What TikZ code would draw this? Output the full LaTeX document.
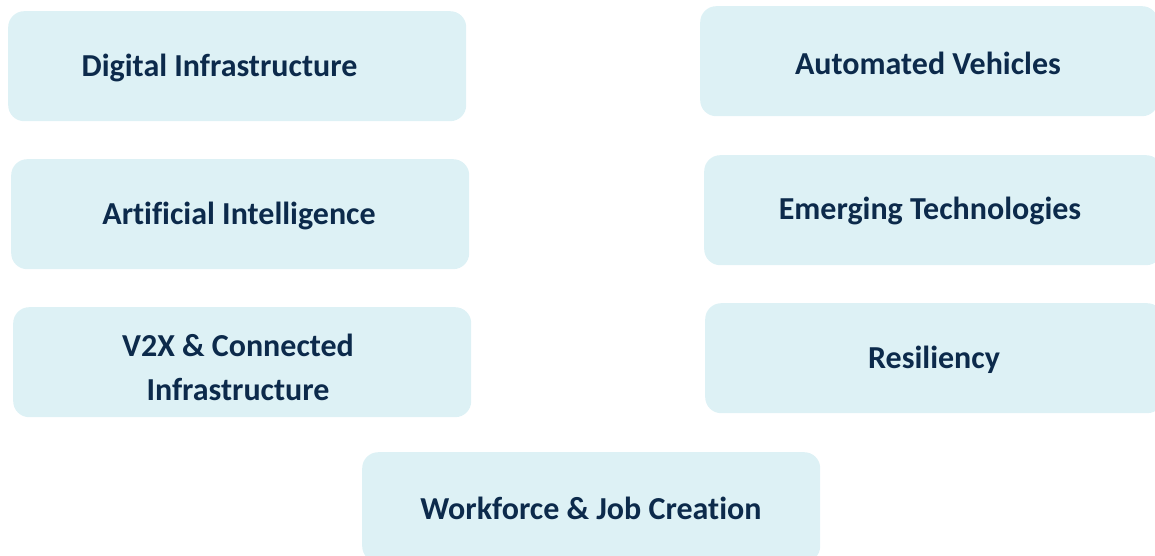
\documentclass[tikz,border=0pt]{standalone}
\usepackage{fontspec}
\setmainfont[Ligatures={NoCommon}]{Carlito}
\definecolor{boxfill}{HTML}{DDF1F5}
\definecolor{navy}{HTML}{0C2A4B}
\begin{document}
\begin{tikzpicture}[x=1pt,y=-1pt,
  topicbox/.style={draw=none,fill=boxfill,rounded corners=16pt,minimum width=458pt,minimum height=110pt,inner sep=0pt,anchor=north west},
  topictext/.style={text=navy,font=\fontsize{32}{44}\selectfont\bfseries,align=center,inner sep=0pt}]
\useasboundingbox (0,0) rectangle (1155,556);
\clip (0,0) rectangle (1155,556);
\node[topicbox] (b1) at (8,11) {};
\node[topicbox] (b2) at (700,6) {};
\node[topicbox] (b3) at (11,159) {};
\node[topicbox] (b4) at (704,155) {};
\node[topicbox] (b5) at (13,307) {};
\node[topicbox] (b6) at (705,303) {};
\node[topicbox] (b7) at (362,452) {};
\node[topictext] (t1) at (219.5,68) {Digital Infrastructure};
\node[topictext] (t2) at (928,63) {Automated Vehicles};
\node[topictext] (t3) at (239,216) {Artificial Intelligence};
\node[topictext] (t4) at (930,211) {Emerging Technologies};
\node[topictext] (t5) at (238,367) {V2X \& Connected\\Infrastructure};
\node[topictext] (t6) at (934,360) {Resiliency};
\node[topictext] (t7) at (591,508) {Workforce \& Job Creation};
\end{tikzpicture}
\end{document}
